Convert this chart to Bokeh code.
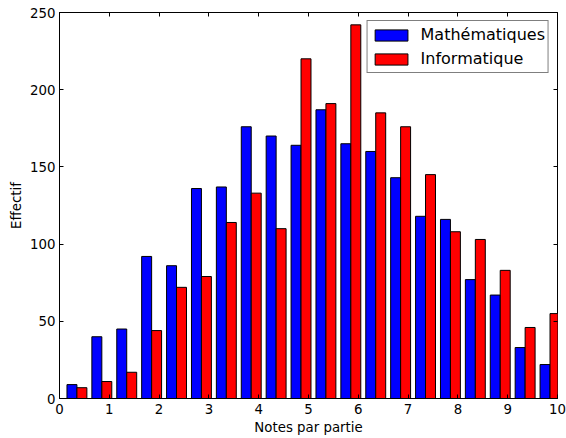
from bokeh.plotting import figure
from bokeh.models import ColumnDataSource, Legend, LegendItem, LinearAxis, FixedTicker, Range1d
from bokeh.embed import file_html
from bokeh.resources import INLINE

# ---- data ----
bin_starts = [0.1, 0.6, 1.1, 1.6, 2.1, 2.6, 3.1, 3.6, 4.1, 4.6,
              5.1, 5.6, 6.1, 6.6, 7.1, 7.6, 8.1, 8.6, 9.1, 9.6]
math_counts = [9, 40, 45, 92, 86, 136, 137, 176, 170, 164,
               187, 165, 160, 143, 118, 116, 77, 67, 33, 22]
info_counts = [7, 11, 17, 44, 72, 79, 114, 133, 110, 220,
               191, 242, 185, 176, 145, 108, 103, 83, 46, 55]
series_names = ["Mathématiques", "Informatique"]
x_ticks = [0, 1, 2, 3, 4, 5, 6, 7, 8, 9, 10]
y_ticks = [0, 50, 100, 150, 200, 250]

BIN_W = 0.5
BAR_W = 0.8 * BIN_W / 2
OFF = 0.1 * BIN_W

src = ColumnDataSource(dict(
    m_left=[s + OFF for s in bin_starts],
    m_right=[s + OFF + BAR_W for s in bin_starts],
    i_left=[s + OFF + BAR_W for s in bin_starts],
    i_right=[s + OFF + 2 * BAR_W for s in bin_starts],
    math=math_counts,
    info=info_counts,
))

FONT = "DejaVu Sans"

p = figure(width=566, height=438,
           x_range=Range1d(0, 10), y_range=Range1d(0, 250),
           output_backend="svg", toolbar_location=None,
           min_border_left=59, min_border_right=9,
           min_border_top=12, min_border_bottom=40)
p.xgrid.visible = False
p.ygrid.visible = False
p.outline_line_color = "black"
p.outline_line_width = 1
p.outline_line_alpha = 1
p.background_fill_color = "white"
p.border_fill_color = "white"

r_m = p.quad(left="m_left", right="m_right", bottom=0, top="math", source=src,
             fill_color="#0000ff", line_color="black", line_width=1)
r_i = p.quad(left="i_left", right="i_right", bottom=0, top="info", source=src,
             fill_color="#ff0000", line_color="black", line_width=1)


def style_axis(ax, ticks, show_labels=True):
    ax.ticker = FixedTicker(ticks=ticks)
    ax.axis_line_color = "black"
    ax.major_tick_line_color = "black"
    ax.major_tick_in = 4
    ax.major_tick_out = 0
    ax.minor_tick_line_color = None
    ax.major_label_text_font = FONT
    ax.major_label_text_font_size = "13.33px"
    ax.major_label_text_color = "black"
    ax.axis_label_text_font = FONT
    ax.axis_label_text_font_size = "13.33px"
    ax.axis_label_text_font_style = "normal"
    ax.axis_label_text_color = "black"
    if not show_labels:
        ax.major_label_overrides = {t: "" for t in ticks}
        ax.major_label_standoff = 0
        ax.axis_line_color = None


style_axis(p.xaxis[0], x_ticks)
style_axis(p.yaxis[0], y_ticks)
p.xaxis[0].axis_label = "Notes par partie"
p.yaxis[0].axis_label = "Effectif"
p.xaxis[0].major_label_standoff = 5
p.xaxis[0].axis_label_standoff = 3
p.yaxis[0].major_label_standoff = 4
p.yaxis[0].axis_label_standoff = 3

top_ax = LinearAxis()
style_axis(top_ax, x_ticks, show_labels=False)
p.add_layout(top_ax, "above")
right_ax = LinearAxis()
style_axis(right_ax, y_ticks, show_labels=False)
p.add_layout(right_ax, "right")

legend = Legend(items=[LegendItem(label=series_names[0], renderers=[r_m]),
                       LegendItem(label=series_names[1], renderers=[r_i])],
                location="top_right")
legend.border_line_color = "black"
legend.border_line_width = 1
legend.background_fill_color = "white"
legend.background_fill_alpha = 1
legend.label_text_font = FONT
legend.label_text_font_size = "16px"
legend.label_text_color = "black"
legend.glyph_width = 41
legend.glyph_height = 14
legend.label_height = 21
legend.label_standoff = 9
legend.padding = 3
legend.spacing = 3
legend.margin = 8
p.add_layout(legend)

open("out.html", "w").write(file_html(p, INLINE))
